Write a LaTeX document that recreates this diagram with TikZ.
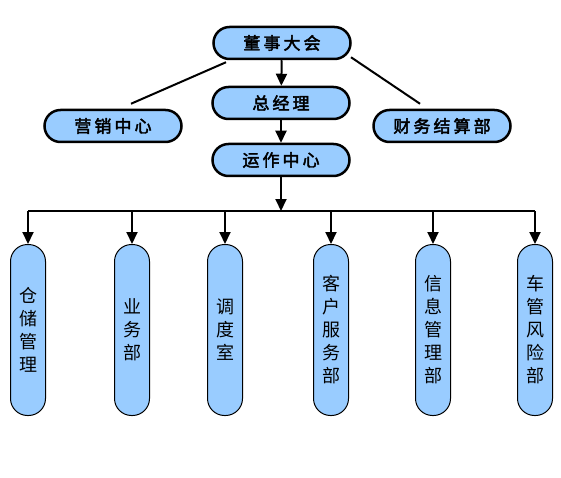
\documentclass[tikz,border=0pt]{standalone}
\usepackage{fontspec}
\usepackage{tikz}
\usetikzlibrary{positioning,arrows.meta,calc}
\newfontfamily\cjktop[LetterSpace=18,AutoFakeBold=2.5]{Noto Sans CJK SC}
\newfontfamily\cjkcol{Noto Sans CJK SC}
\definecolor{orgblue}{RGB}{153,204,255}

\begin{document}
\begin{tikzpicture}[x=1pt, y=-1pt]
  \tikzset{
    topbox/.style={draw, line width=2.5pt, fill=orgblue, rounded corners=16pt,
      minimum width=137pt, minimum height=32pt, inner sep=0pt, font=\cjktop\bfseries\fontsize{17}{17}\selectfont},
    colbox/.style={draw, line width=1pt, fill=orgblue, rounded corners=17pt,
      minimum width=35pt, minimum height=171pt, inner sep=0pt, align=center,
      font=\cjkcol\fontsize{18}{23}\selectfont},
    arr/.style={line width=2pt, -{Triangle[length=12pt,width=11pt]}}
  }
  \useasboundingbox (0,0) rectangle (561,478);

  % top of the chart
  \node[topbox] (dshi) at (282,43) {董事大会};
  \node[topbox] (zjl)  at (281,103) {总经理};
  \node[topbox] (yxzx) at (113,126) {营销中心};
  \node[topbox] (cwbu) at (442,126) {财务结算部};
  \node[topbox] (yzzx) at (281,160) {运作中心};

  \draw[line width=2pt] ($(dshi.south)+(-56,2)$) -- ($(yxzx.north)+(18,-5)$);
  \draw[line width=2pt] ($(dshi.south)+(69,-3)$) -- ($(cwbu.north)+(-22,-5)$);
  \draw[arr] (dshi) -- (zjl);
  \draw[arr] (zjl) -- (yzzx);

  % departments
  \node[colbox] (cc) at (28,330)  {仓\\储\\管\\理};
  \node[colbox] (yw) at (132,330) {业\\务\\部};
  \node[colbox] (dd) at (225,330) {调\\度\\室};
  \node[colbox] (kh) at (331,330) {客\\户\\服\\务\\部};
  \node[colbox] (xx) at (433,330) {信\\息\\管\\理\\部};
  \node[colbox] (cg) at (535,330) {车\\管\\风\\险\\部};

  \coordinate (bus) at (282,211);
  \draw[arr] (yzzx) -- (yzzx |- bus);
  \draw[line width=2pt] (cc |- bus) -- (cg |- bus);
  \draw[arr] (cc |- bus) -- (cc);
  \draw[arr] (yw |- bus) -- (yw);
  \draw[arr] (dd |- bus) -- (dd);
  \draw[arr] (kh |- bus) -- (kh);
  \draw[arr] (xx |- bus) -- (xx);
  \draw[arr] (cg |- bus) -- (cg);
\end{tikzpicture}
\end{document}
